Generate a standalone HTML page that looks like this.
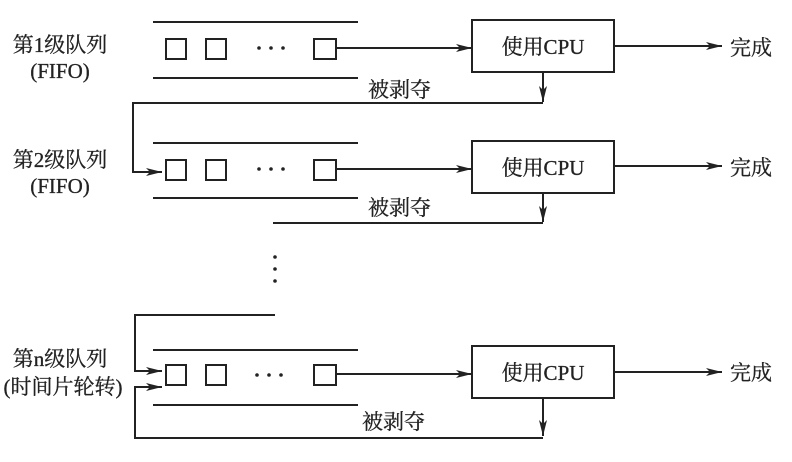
<!DOCTYPE html>
<html><head><meta charset="utf-8"><style>
html,body{margin:0;padding:0;background:#fff}
svg{display:block}
text{font-family:"Liberation Serif","Noto Serif CJK SC","Noto Sans CJK SC",serif;fill:#222}
</style></head><body>
<svg width="792" height="462" viewBox="0 0 792 462" xmlns="http://www.w3.org/2000/svg">
<defs>
<marker id="a" markerWidth="16" markerHeight="10" refX="16" refY="5" orient="auto" markerUnits="userSpaceOnUse">
<path d="M0,1 L16,5 L0,9 L4,5 Z" fill="#222"/></marker>
</defs>
<g stroke="#222" stroke-width="2" fill="none">
<line x1="153" y1="22" x2="358" y2="22"/>
<line x1="153" y1="78" x2="358" y2="78"/>
<rect x="166" y="39" width="20" height="20"/>
<rect x="206" y="39" width="20" height="20"/>
<rect x="314" y="39" width="22" height="20"/>
<line x1="336" y1="48" x2="472" y2="48" marker-end="url(#a)"/>
<rect x="472" y="20" width="142" height="52"/>
<line x1="614" y1="46" x2="722" y2="46" marker-end="url(#a)"/>
<line x1="543" y1="72" x2="543" y2="102" marker-end="url(#a)"/>
<polyline points="543,103 133,103 133,172 162,172" marker-end="url(#a)"/>
<line x1="153" y1="143" x2="358" y2="143"/>
<line x1="153" y1="198" x2="358" y2="198"/>
<rect x="166" y="160" width="20" height="20"/>
<rect x="206" y="160" width="20" height="20"/>
<rect x="314" y="160" width="22" height="20"/>
<line x1="336" y1="169" x2="472" y2="169" marker-end="url(#a)"/>
<rect x="472" y="141" width="142" height="52"/>
<line x1="614" y1="166" x2="722" y2="166" marker-end="url(#a)"/>
<line x1="543" y1="193" x2="543" y2="222" marker-end="url(#a)"/>
<line x1="273" y1="223" x2="543" y2="223"/>
<polyline points="275,315 135,315 135,371 162,371" marker-end="url(#a)"/>
<line x1="153" y1="350" x2="358" y2="350"/>
<line x1="153" y1="405" x2="358" y2="405"/>
<rect x="166" y="365" width="20" height="20"/>
<rect x="206" y="365" width="20" height="20"/>
<rect x="314" y="365" width="22" height="20"/>
<line x1="336" y1="374" x2="472" y2="374" marker-end="url(#a)"/>
<rect x="472" y="346" width="142" height="52"/>
<line x1="614" y1="372" x2="722" y2="372" marker-end="url(#a)"/>
<line x1="543" y1="398" x2="543" y2="436" marker-end="url(#a)"/>
<polyline points="543,438 135,438 135,387 162,387" marker-end="url(#a)"/>
</g>
<g fill="#222">
<circle cx="259" cy="48" r="1.8"/><circle cx="271" cy="48" r="1.8"/><circle cx="283" cy="48" r="1.8"/>
<circle cx="259" cy="169" r="1.8"/><circle cx="271" cy="169" r="1.8"/><circle cx="283" cy="169" r="1.8"/>
<circle cx="257" cy="375" r="1.8"/><circle cx="269" cy="375" r="1.8"/><circle cx="281" cy="375" r="1.8"/>
<circle cx="275" cy="257" r="1.8"/><circle cx="275" cy="269" r="1.8"/><circle cx="275" cy="281" r="1.8"/>
</g>
<g font-size="21" stroke="#222" stroke-width="0.3">
<text x="543" y="54" text-anchor="middle">使用CPU</text>
<text x="543" y="175" text-anchor="middle">使用CPU</text>
<text x="543" y="380" text-anchor="middle">使用CPU</text>
<text x="730" y="55">完成</text>
<text x="730" y="175">完成</text>
<text x="730" y="380">完成</text>
<text x="368" y="97">被剥夺</text>
<text x="368" y="215">被剥夺</text>
<text x="362" y="429">被剥夺</text>
<text x="60" y="52" text-anchor="middle">第1级队列</text>
<text x="60" y="78" text-anchor="middle">(FIFO)</text>
<text x="60" y="167" text-anchor="middle">第2级队列</text>
<text x="60" y="193" text-anchor="middle">(FIFO)</text>
<text x="60" y="366" text-anchor="middle">第n级队列</text>
<text x="63" y="394" text-anchor="middle">(时间片轮转)</text>
</g>
</svg>
</body></html>
